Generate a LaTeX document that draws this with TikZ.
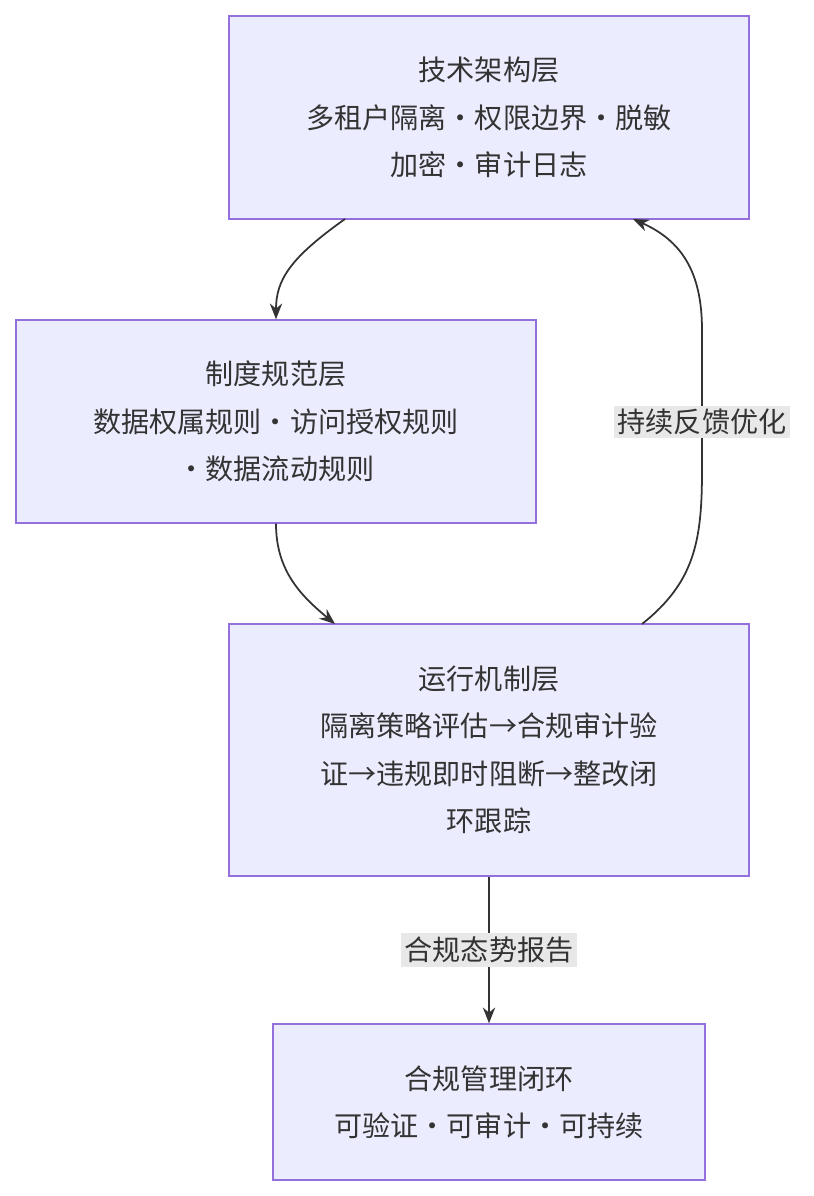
\documentclass[tikz,border=0pt]{standalone}
\usepackage{fontspec}
\setmainfont{Noto Sans CJK SC}
\usetikzlibrary{arrows.meta}
\definecolor{boxfill}{HTML}{ECECFF}
\definecolor{boxline}{HTML}{9370DB}
\definecolor{linkcol}{HTML}{333333}
\definecolor{lblfill}{HTML}{E8E8E8}
\begin{document}
\begin{tikzpicture}[x=0.02cm, y=-0.02cm,
    every node/.style={font=\fontsize{16pt}{27pt}\selectfont, text=linkcol},
    layer/.style={draw=boxline, fill=boxfill, line width=0.8pt, align=center, inner sep=0pt},
    lbl/.style={fill=lblfill, inner sep=2pt},
    link/.style={draw=linkcol, line width=1pt, -{Stealth[length=9pt,width=7pt]}}]
        \useasboundingbox (0,0) rectangle (814,1196);
        \node (tech) [layer, minimum width=10.4cm, minimum height=4.06cm] at (489,117.5) {技术架构层\\多租户隔离·权限边界·脱敏\\加密·审计日志};
        \node (rule) [layer, minimum width=10.4cm, minimum height=4.06cm] at (276,421.5) {制度规范层\\数据权属规则·访问授权规则\\·数据流动规则};
        \node (run) [layer, minimum width=10.4cm, minimum height=5.04cm] at (489,750) {运行机制层\\隔离策略评估→合规审计验\\证→违规即时阻断→整改闭\\环跟踪};
        \node (loop) [layer, minimum width=8.64cm, minimum height=3.12cm] at (489,1102) {合规管理闭环\\可验证·可审计·可持续};

        \coordinate (techOut) at (345,219);
        \coordinate (techIn) at (633,219);
        \coordinate (runIn) at (335,624);
        \coordinate (runOut) at (642,624);

        \draw[link] (techOut) .. controls (290,258) and (276,280) .. (rule.north);
        \draw[link] (rule.south) .. controls (276,570) and (300,595) .. (runIn);
        \draw[link] (runOut) .. controls (695,582) and (702,540) .. (702,470) -- (702,330) .. controls (702,270) and (680,240) .. (techIn);
        \node (fb) [lbl] at (702,422) {持续反馈优化};
        \draw[link] (run.south) -- (loop.north) node[lbl, midway] (rep) {合规态势报告};
    \end{tikzpicture}
\end{document}
